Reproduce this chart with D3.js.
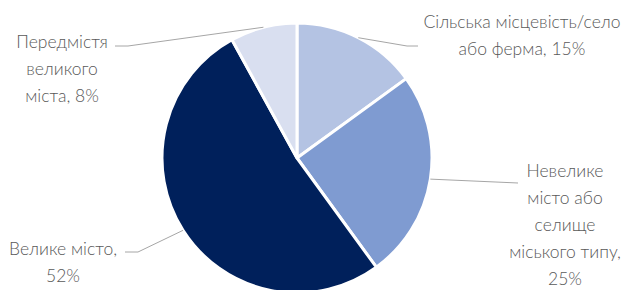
<!DOCTYPE html>
<html>
<head>
<meta charset="utf-8">
<script src="https://cdn.jsdelivr.net/npm/d3@7"></script>
<style>
  body { margin: 0; background: #fff; }
  svg { display: block; }
  .lbl { font-family: Lato, "Noto Sans", sans-serif; font-size: 17.5px; font-weight: 300; fill: #595959; }
</style>
</head>
<body>
<div id="chart"></div>
<script>
// Дані діаграми
const categories = ['Сільська місцевість/село або ферма', 'Невелике місто або селище міського типу', 'Велике місто', 'Передмістя великого міста']
const values = [15, 25, 52, 8]
const labelLines = [
    ['Сільська місцевість/село', 'або ферма, 15%'],
    ['Невелике', 'місто або', 'селище', 'міського типу,', '25%'],
    ['Велике місто,', '52%'],
    ['Передмістя', 'великого', 'міста, 8%']
]
const colors = ['#b4c3e3', '#7f9bd1', '#00205b', '#d9dff0']

// розміщення підписів (x центру, базова лінія першого рядка, злам лінії, кінець лінії)
const labelPos = [
    { x: 522, y: 28, elbow: [407, 46], end: [418, 46] },
    { x: 565, y: 177, elbow: [518, 183], end: [518, 183] },
    { x: 63, y: 255, elbow: [138, 252], end: [125, 252] },
    { x: 62, y: 48, elbow: [128, 46], end: [115, 46] }
]

const W = 629, H = 290
const cx = 297, cy = 158, R = 135

let svg = d3.select('#chart').append('svg')
    .attr('width', W)
    .attr('height', H)

let pie = d3.pie().sort(null).value(d => d)
let arcs = pie(values)
let arc = d3.arc().innerRadius(0).outerRadius(R)
let edge = d3.arc().innerRadius(R).outerRadius(R)

let g = svg.append('g').attr('transform', `translate(${cx},${cy})`)

g.selectAll('path')
    .data(arcs)
    .join('path')
    .attr('d', arc)
    .attr('fill', (d, i) => colors[i])
    .attr('stroke', '#fff')
    .attr('stroke-width', 3)
    .attr('stroke-linejoin', 'round')

// лінії-виноски
svg.selectAll('polyline')
    .data(arcs)
    .join('polyline')
    .attr('points', (d, i) => {
        let c = edge.centroid(d)
        let p = labelPos[i]
        return [[cx + c[0], cy + c[1]], p.elbow, p.end].map(q => q.join(',')).join(' ')
    })
    .attr('fill', 'none')
    .attr('stroke', '#a6a6a6')
    .attr('stroke-width', 1)

// підписи
labelLines.forEach((lines, i) => {
    let t = svg.append('text')
        .attr('class', 'lbl')
        .attr('text-anchor', 'middle')
    lines.forEach((s, j) => {
        t.append('tspan')
            .attr('x', labelPos[i].x)
            .attr('y', labelPos[i].y + j * 27)
            .text(s)
    })
})
</script>
</body>
</html>
